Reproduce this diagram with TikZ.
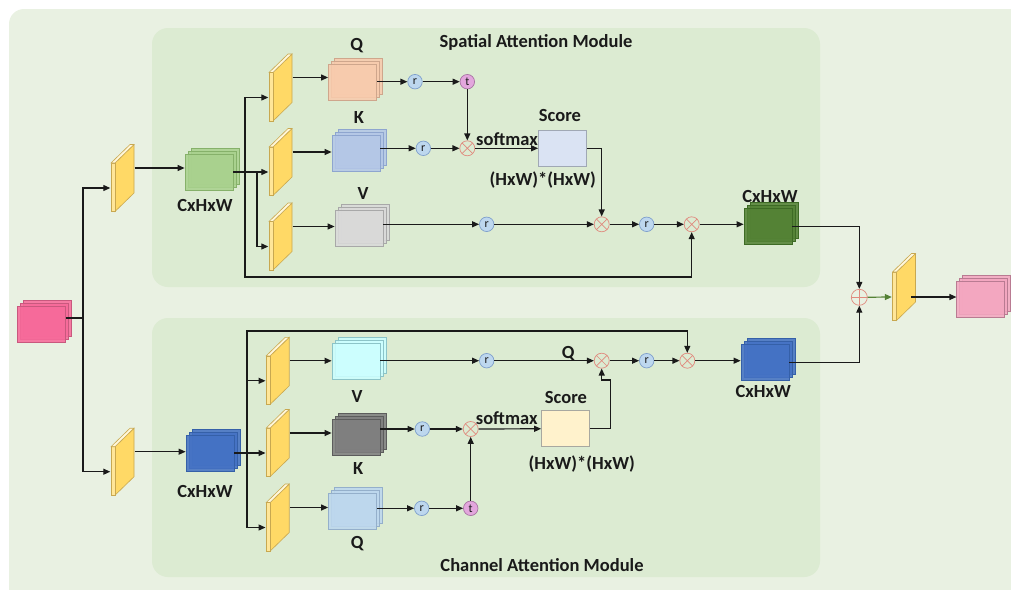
\documentclass[tikz,border=0pt]{standalone}
\usepackage{fontspec}
\setmainfont{Carlito}
\usetikzlibrary{arrows.meta,calc,shadows}
\definecolor{ink}{HTML}{1A1A1A}
\definecolor{outerbg}{HTML}{E9F1E2}
\definecolor{panelbg}{HTML}{DCEBD2}
\definecolor{slabface}{HTML}{FFD966}
\definecolor{slabfront}{HTML}{FFE699}
\definecolor{slabtop}{HTML}{FFF7DA}
\definecolor{slabline}{HTML}{C8A850}
\definecolor{opred}{HTML}{E08A7E}
\definecolor{rfill}{HTML}{BDD7EE}
\definecolor{rline}{HTML}{7FA0CC}
\definecolor{tfill}{HTML}{E3A6DD}
\definecolor{tline}{HTML}{A875A3}
\definecolor{garrow}{HTML}{548235}
\definecolor{pinkin}{HTML}{F76A9A}
\definecolor{pinkinline}{HTML}{C9587E}
\definecolor{xgreen}{HTML}{A9D18E}
\definecolor{xgreenline}{HTML}{86B16A}
\definecolor{qspat}{HTML}{F8CBAD}
\definecolor{qspatline}{HTML}{CFA68C}
\definecolor{kspat}{HTML}{B4C7E7}
\definecolor{kspatline}{HTML}{8EA5CF}
\definecolor{vspat}{HTML}{D9D9D9}
\definecolor{vspatline}{HTML}{A8A8A8}
\definecolor{scores}{HTML}{DAE3F3}
\definecolor{scoresline}{HTML}{A0A8B4}
\definecolor{gout}{HTML}{548235}
\definecolor{goutline}{HTML}{3E6B25}
\definecolor{xblue}{HTML}{4472C4}
\definecolor{xblueline}{HTML}{3560A8}
\definecolor{vchan}{HTML}{CCFFFF}
\definecolor{vchanline}{HTML}{8CC4C8}
\definecolor{kchan}{HTML}{7F7F7F}
\definecolor{kchanline}{HTML}{5C5C5C}
\definecolor{qchan}{HTML}{BDD7EE}
\definecolor{qchanline}{HTML}{94AFCB}
\definecolor{scorec}{HTML}{FFF2CC}
\definecolor{scorecline}{HTML}{A8A8A0}
\definecolor{pinkout}{HTML}{F4A7C0}
\definecolor{pinkoutline}{HTML}{B97B92}
\tikzset{
  >={Triangle[length=7pt,width=6pt]},
  every node/.style={text=ink},
  lab/.style={font=\fontsize{18.5}{20}\selectfont\bfseries,inner sep=0pt},
  slab/.style={minimum width=24pt,minimum height=68pt,inner sep=0pt,
    path picture={
      \coordinate (slabnw) at (path picture bounding box.north west);
      \filldraw[draw=slabline,fill=slabface,line width=0.6pt] ($(slabnw)+(4.5,19)$) -- ($(slabnw)+(23.5,0.5)$) -- ($(slabnw)+(23.5,49)$) -- ($(slabnw)+(4.5,67.5)$) -- cycle;
      \filldraw[draw=slabline,fill=slabfront,line width=0.6pt] ($(slabnw)+(0.5,19)$) -- ($(slabnw)+(4.5,19)$) -- ($(slabnw)+(4.5,67.5)$) -- ($(slabnw)+(0.5,67.5)$) -- cycle;
      \filldraw[draw=slabline,fill=slabtop,line width=0.6pt] ($(slabnw)+(0.5,19)$) -- ($(slabnw)+(19.5,0.5)$) -- ($(slabnw)+(23.5,0.5)$) -- ($(slabnw)+(4.5,19)$) -- cycle;
    }},
  stack/.style 2 args={rectangle,minimum width=48pt,minimum height=36pt,inner sep=0pt,
    fill=#1,draw=#2,line width=0.8pt,fill opacity=0.88,
    copy shadow={shadow xshift=6pt,shadow yshift=6pt,fill=#1,draw=#2,line width=0.8pt,fill opacity=0.88},
    copy shadow={shadow xshift=3pt,shadow yshift=3pt,fill=#1,draw=#2,line width=0.8pt,fill opacity=0.88}},
  scorebox/.style 2 args={rectangle,minimum width=48pt,minimum height=36pt,inner sep=0pt,fill=#1,draw=#2,line width=0.8pt},
  rop/.style={circle,draw=rline,fill=rfill,minimum size=14.5pt,inner sep=0pt,line width=0.7pt,font=\fontsize{12}{12}\selectfont},
  tpose/.style={rop,draw=tline,fill=tfill},
  mulop/.style={circle,draw=opred,minimum size=15pt,inner sep=0pt,line width=0.7pt,
    path picture={\draw[opred,line width=0.7pt] (path picture bounding box.north west) -- (path picture bounding box.south east)
      (path picture bounding box.north east) -- (path picture bounding box.south west);}},
  sumop/.style={circle,draw=opred,minimum size=16pt,inner sep=0pt,line width=0.7pt,
    path picture={\draw[opred,line width=0.7pt] (path picture bounding box.north) -- (path picture bounding box.south)
      (path picture bounding box.east) -- (path picture bounding box.west);}},
  wire/.style={line width=1.2pt,draw=ink},
  arrow/.style={->,line width=1.2pt,draw=ink},
  garrowline/.style={->,line width=1.2pt,draw=garrow},
}
\begin{document}
\begin{tikzpicture}[x=1pt,y=-1pt]
  \useasboundingbox (0,0) rectangle (1011,589);
  \begin{scope}
    \clip (0,0) rectangle (1011,589);
    \fill[outerbg,rounded corners=15pt] (9,9) rectangle (1040,620);
  \end{scope}
  \fill[panelbg,rounded corners=16pt] (152,28) rectangle (820,287);
  \fill[panelbg,rounded corners=16pt] (152,318) rectangle (820,577);
  \node[lab] (title1) at (536,42) {Spatial Attention Module};
  \node[lab] (title2) at (542,565) {Channel Attention Module};

  % input and first convolutions
  \node[stack={pinkin}{pinkinline}] (in) at (41.5,324) {};
  \coordinate (fork) at (83,318);
  \node[slab] (s0a) at (122.5,178) {};
  \node[slab] (s0b) at (122.5,461.7) {};
  \draw[wire] (in.east |- fork) -- (fork);
  \draw[arrow] (fork) |- ([yshift=-10pt]s0a.west);
  \draw[arrow] (fork) |- ([yshift=-10pt]s0b.west);

  % spatial attention
  \node[stack={xgreen}{xgreenline}] (xs) at (209,172) {};
  \node[lab] (xslab) at (205,205) {CxHxW};
  \draw[arrow] ([yshift=10pt]s0a.east) coordinate (p0) -- (p0 -| xs.west);
  \coordinate (sa) at (245,172);
  \coordinate (sb) at (257,172);
  \coordinate (sc) at (245,277);
  \node[slab] (sq) at (280.5,87.5) {};
  \node[slab] (sk) at (280.5,162) {};
  \node[slab] (sv) at (280.5,236.5) {};
  \draw[wire] (xs.east) -- (sb);
  \draw[arrow] (sa) |- ([yshift=-10pt]sq.west);
  \draw[arrow] (sb) |- ([yshift=-10pt]sk.west);
  \draw[arrow] (sb) |- ([yshift=-10pt]sv.west);

  \node[stack={qspat}{qspatline}] (qs) at (352.5,82) {};
  \node[lab] (qslab) at (356.7,46) {Q};
  \node[stack={kspat}{kspatline}] (ks) at (356,153.5) {};
  \node[lab] (kslab) at (359,118) {K};
  \node[stack={vspat}{vspatline}] (vs) at (359,228) {};
  \node[lab] (vslab) at (363,193) {V};
  \draw[arrow] ([yshift=10pt]sq.east) coordinate (p1) -- (p1 -| qs.west);
  \draw[arrow] ([yshift=10pt]sk.east) coordinate (p2) -- (p2 -| ks.west);
  \draw[arrow] ([yshift=10pt]sv.east) coordinate (p3) -- (p3 -| vs.west);

  \node[rop] (rqs) at (415,81.7) {r};
  \node[tpose] (tqs) at (467.3,81.7) {t};
  \node[mulop] (m1s) at (467.3,148.3) {};
  \node[rop] (rks) at (423.3,148.3) {r};
  \node[scorebox={scores}{scoresline}] (scs) at (562.5,148.3) {};
  \node[lab] (scslab) at (560,115) {Score};
  \node[lab] (hws) at (542.7,180) {(HxW)*(HxW)};
  \node[lab] (sms) at (507,139.5) {softmax};
  \draw[arrow] (qs.east |- rqs) -- (rqs);
  \draw[arrow] (rqs) -- (tqs);
  \draw[arrow] (tqs) -- (m1s);
  \draw[arrow] (ks.east |- rks) -- (rks);
  \draw[arrow] (rks) -- (m1s);
  \draw[arrow] (m1s) -- (scs);

  \node[rop] (rvs) at (486.7,224.3) {r};
  \node[mulop] (m2s) at (601.7,224.3) {};
  \node[rop] (r2s) at (646.7,224.3) {r};
  \node[mulop] (m3s) at (691.7,224.3) {};
  \node[stack={gout}{goutline}] (gs) at (768,226.7) {};
  \node[lab] (gslab) at (770,196.7) {CxHxW};
  \draw[arrow] (vs.east |- rvs) -- (rvs);
  \draw[arrow] (rvs) -- (m2s);
  \draw[arrow] (scs.east) -| (m2s.north);
  \draw[arrow] (m2s) -- (r2s);
  \draw[arrow] (r2s) -- (m3s);
  \draw[arrow] (sa) -- (sc) -| (m3s.south);
  \draw[arrow] (m3s) -- (m3s -| gs.west);

  % channel attention
  \node[stack={xblue}{xblueline}] (xc) at (210,453) {};
  \node[lab] (xclab) at (205,491) {CxHxW};
  \draw[arrow] ([yshift=10pt]s0b.east) coordinate (p4) -- (p4 -| xc.west);
  \coordinate (ca) at (247,453);
  \coordinate (cc) at (247,331);
  \node[slab] (cv) at (277.7,370.8) {};
  \node[slab] (ck) at (277.7,443) {};
  \node[slab] (cq) at (277.7,517.5) {};
  \draw[wire] (xc.east |- ca) -- (ca);
  \draw[arrow] (ca) |- ([yshift=-10pt]cv.west);
  \draw[arrow] (ca) |- ([yshift=-10pt]ck.west);
  \draw[arrow] (ca) |- ([yshift=-10pt]cq.west);

  \node[stack={vchan}{vchanline}] (vc) at (356,361.3) {};
  \node[lab] (vclab) at (357,396) {V};
  \node[stack={kchan}{kchanline}] (kc) at (356,437) {};
  \node[lab] (kclab) at (358.3,468) {K};
  \node[stack={qchan}{qchanline}] (qc) at (352.5,511.3) {};
  \node[lab] (qclab) at (357.3,544) {Q};
  \draw[arrow] ([yshift=10pt]cv.east) coordinate (p5) -- (p5 -| vc.west);
  \draw[arrow] ([yshift=10pt]ck.east) coordinate (p6) -- (p6 -| kc.west);
  \draw[arrow] ([yshift=10pt]cq.east) coordinate (p7) -- (p7 -| qc.west);

  \node[rop] (rvc) at (486.7,360.7) {r};
  \node[mulop] (m2c) at (601.7,360.7) {};
  \node[rop] (r2c) at (646.7,360.7) {r};
  \node[mulop] (m3c) at (687.3,360.7) {};
  \node[lab] (qmark) at (568.3,353.3) {Q};
  \node[stack={xblue}{xblueline}] (bc) at (765,362.5) {};
  \node[lab] (bclab) at (763.3,391.7) {CxHxW};
  \node[rop] (rkc) at (422.3,429) {r};
  \node[mulop] (m1c) at (470.7,429) {};
  \node[rop] (rqc) at (421.7,508.3) {r};
  \node[tpose] (tqc) at (470.7,508.3) {t};
  \node[scorebox={scorec}{scorecline}] (scc) at (565.5,428.7) {};
  \node[lab] (scclab) at (566,397.3) {Score};
  \node[lab] (hwc) at (581.7,464) {(HxW)*(HxW)};
  \node[lab] (smc) at (506.7,418) {softmax};
  \coordinate (cd) at (610.7,380);
  \draw[arrow] (vc.east |- rvc) -- (rvc);
  \draw[arrow] (rvc) -- (m2c);
  \draw[arrow] (m2c) -- (r2c);
  \draw[arrow] (r2c) -- (m3c);
  \draw[arrow] (ca) -- (cc) -| (m3c.north);
  \draw[arrow] (m3c) -- (m3c -| bc.west);
  \draw[arrow] (kc.east |- rkc) -- (rkc);
  \draw[arrow] (rkc) -- (m1c);
  \draw[arrow] (qc.east |- rqc) -- (rqc);
  \draw[arrow] (rqc) -- (tqc);
  \draw[arrow] (tqc) -- (m1c);
  \draw[arrow] (m1c) -- (scc);
  \draw[arrow] (scc.east) -| (cd) -| (m2c.south);

  % fusion and output
  \node[sumop] (sum) at (859.3,297.3) {};
  \node[slab] (fs) at (904,287) {};
  \node[stack={pinkout}{pinkoutline}] (out) at (980.8,299.7) {};
  \draw[arrow] (gs.east) -| (sum.north);
  \draw[arrow] (bc.east) -| (sum.south);
  \draw[garrowline] (sum) -- ([yshift=-10pt]fs.west);
  \draw[arrow] ([xshift=7pt,yshift=-10pt]fs.center) coordinate (p8) -- (p8 -| out.west);
\end{tikzpicture}
\end{document}
